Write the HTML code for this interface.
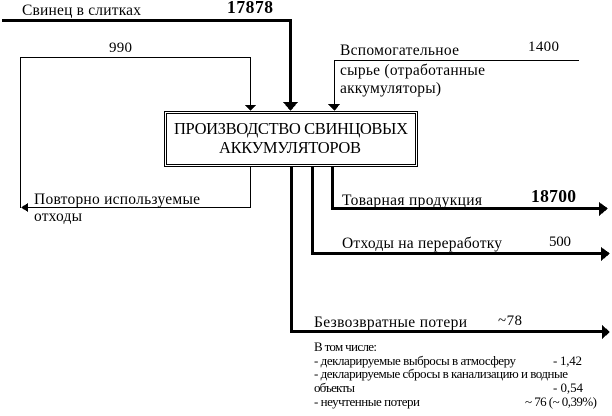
<!DOCTYPE html>
<html><head><meta charset="utf-8"><style>
html,body{margin:0;padding:0;background:#fff}
svg{display:block}
text{font-family:"Liberation Serif","Noto Serif CJK SC",serif;font-size:15.5px;fill:#000}
.s{font-size:13px}
.b{font-weight:bold;font-size:17.5px}
.t{font-size:16.5px}
.n{font-size:15px}
</style></head><body>
<svg width="612" height="416" viewBox="0 0 612 416" xmlns="http://www.w3.org/2000/svg">
<g shape-rendering="crispEdges" fill="#000">
<rect x="2" y="19" width="290" height="3"/>
<rect x="289" y="19" width="3" height="85"/>
<polygon points="283,102 298,102 290.5,111"/>
<rect x="20" y="57" width="231" height="1"/>
<rect x="250" y="57" width="1" height="50"/>
<polygon points="245,105 256,105 250.5,111"/>
<rect x="20" y="57" width="1" height="151"/>
<rect x="250" y="166" width="1" height="42"/>
<rect x="24" y="207" width="227" height="1"/>
<polygon points="21,207.5 28,203 28,212"/>
<rect x="334" y="60" width="245" height="1"/>
<rect x="334" y="60" width="1" height="47"/>
<polygon points="328,104 340,104 334.5,111"/>
<rect x="331" y="166" width="3" height="44"/>
<rect x="331" y="207" width="270" height="3"/>
<polygon points="599,202 608,208.5 599,216"/>
<rect x="311" y="166" width="3" height="88"/>
<rect x="311" y="252" width="291" height="3"/>
<polygon points="601,247 610,253.5 601,261"/>
<rect x="290" y="166" width="3" height="167"/>
<rect x="290" y="330" width="313" height="3"/>
<polygon points="602,325 610,332 602,339"/>
</g>
<rect x="164.5" y="111.5" width="253" height="55" fill="#fff" stroke="#000" shape-rendering="crispEdges"/>
<rect x="166.5" y="113.5" width="249" height="51" fill="none" stroke="#000" shape-rendering="crispEdges"/>
<text x="22" y="15" textLength="119" lengthAdjust="spacing">Свинец в слитках</text>
<text class="b" x="227" y="13" textLength="46">17878</text>
<text class="n" x="109" y="52" textLength="23">990</text>
<text x="340" y="55" textLength="119">Вспомогательное</text>
<text class="n" x="528" y="51" textLength="31">1400</text>
<text x="340" y="75" textLength="145">сырье (отработанные</text>
<text x="340" y="93" textLength="101">аккумуляторы)</text>
<text class="t" x="174" y="134" textLength="234">ПРОИЗВОДСТВО СВИНЦОВЫХ</text>
<text class="t" x="219" y="153" textLength="142">АККУМУЛЯТОРОВ</text>
<text x="34" y="204" textLength="166">Повторно используемые</text>
<text x="34" y="221" textLength="48">отходы</text>
<text x="342" y="205" textLength="140">Товарная продукция</text>
<text class="b" x="531" y="202" textLength="45">18700</text>
<text x="342" y="248" textLength="160">Отходы на переработку</text>
<text class="n" x="549" y="246" textLength="22">500</text>
<text x="314" y="327" textLength="153">Безвозвратные потери</text>
<text class="n" x="498" y="325" textLength="24">~78</text>
<text class="s" x="314" y="351" textLength="63">В том числе:</text>
<text class="s" x="314" y="365" textLength="202">- декларируемые выбросы в атмосферу</text>
<text class="s" x="553" y="365" textLength="29">- 1,42</text>
<text class="s" x="314" y="378" textLength="254">- декларируемые сбросы в канализацию и водные</text>
<text class="s" x="314" y="392" textLength="41">объекты</text>
<text class="s" x="553" y="392" textLength="30">- 0,54</text>
<text class="s" x="314" y="406" textLength="106">- неучтенные потери</text>
<text class="s" x="525" y="406" textLength="72">~ 76 (~ 0,39%)</text>
</svg>
</body></html>
